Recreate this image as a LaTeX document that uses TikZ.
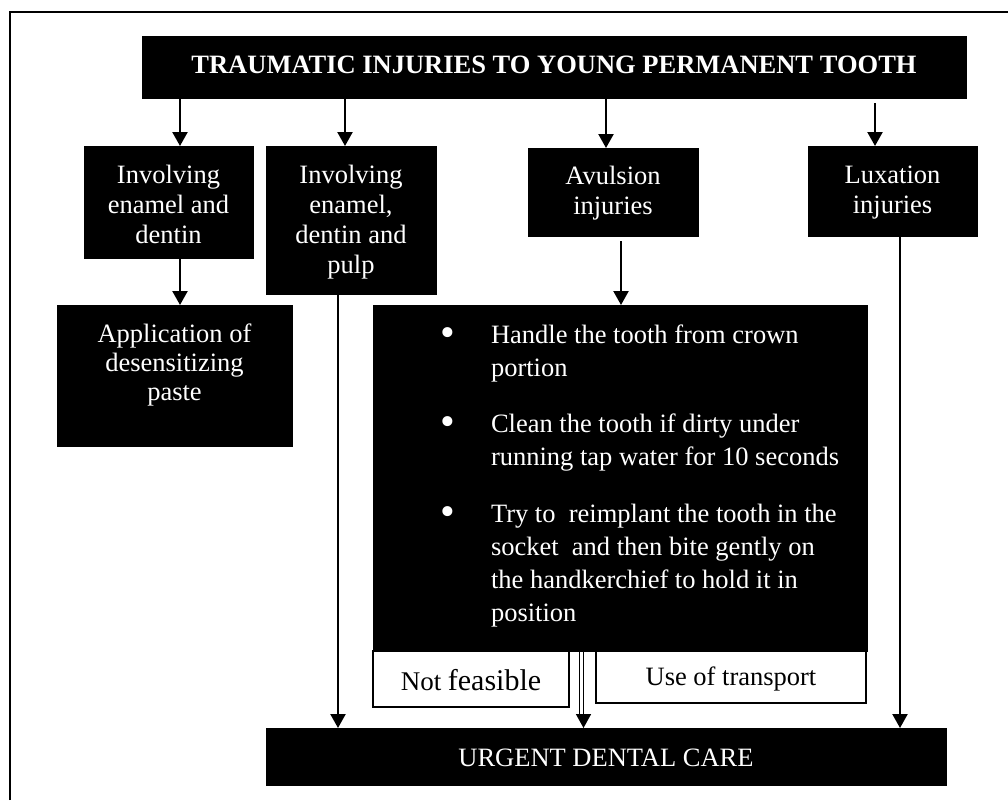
\documentclass[tikz,border=0pt]{standalone}
\usepackage{fontspec}
\setmainfont{Liberation Serif}
\usetikzlibrary{arrows.meta}
\tikzset{
  bbox/.style={fill=black, draw=black, line width=0.6pt, inner sep=0pt, outer sep=0pt, text=white, font=\fontsize{26.5}{30}\selectfont},
  wbox/.style={fill=white, draw=black, line width=1.3pt, inner sep=0pt, outer sep=0pt, text=black, font=\fontsize{26.5}{30}\selectfont},
  arr/.style={-{Triangle[width=15pt,length=14pt]}, line width=2.3pt},
  frame/.style={line width=2pt}
}
\newcommand{\bigbul}{\leavevmode\llap{\raisebox{-3.5pt}{\fontsize{42}{30}\selectfont\textbullet}\hspace{35.6pt}}}
\begin{document}
\begin{tikzpicture}[x=1pt, y=-1pt]
\useasboundingbox (0,0) rectangle (1008,800);
\draw[frame] (10,800) -- (10,12) -- (1008,12);

\node[bbox] (T) at (554,67) {\parbox[c][62pt][t]{824pt}{\centering\bfseries\rule{0pt}{37pt}TRAUMATIC INJURIES TO YOUNG PERMANENT TOOTH}};
\node[bbox] (A) at (168.5,202) {\parbox[c][112pt][t]{169pt}{\centering\rule{0pt}{37pt}Involving\\enamel and\\dentin}};
\node[bbox] (B) at (351,220) {\parbox[c][148pt][t]{170pt}{\centering\rule{0pt}{37pt}Involving\\enamel,\\dentin and\\pulp}};
\node[bbox] (C) at (613,192) {\parbox[c][88pt][t]{170pt}{\centering\rule{0pt}{36pt}Avulsion\\injuries}};
\node[bbox] (D) at (892.5,191) {\parbox[c][90pt][t]{169pt}{\centering\rule{0pt}{37pt}Luxation\\injuries}};
\node[bbox] (E) at (174.5,375.5) {\parbox[c][141pt][t]{235pt}{\centering\baselineskip=29pt\rule{0pt}{37pt}Application of\\desensitizing\\paste}};
\node[bbox] (F) at (620,478) {\parbox[c][346pt][t]{494pt}{\raggedright\leftskip=118pt\baselineskip=33pt
\rule{0pt}{38pt}\bigbul Handle the tooth from crown\\portion\par\vspace{23pt}
\bigbul Clean the tooth if dirty under\\running tap water for 10 seconds\par\vspace{24pt}
\bigbul Try to~ reimplant the tooth in the\\socket~ and then bite gently on\\the handkerchief to hold it in\\position\par}};
\node[wbox] (NF) at (471,679) {\parbox[c][56pt][t]{196pt}{\centering\rule{0pt}{39pt}{\fontsize{27}{30}\selectfont Not} {\fontsize{30}{30}\selectfont feasible}}};
\node[wbox] (UT) at (731,677) {\parbox[c][52pt][t]{270pt}{\centering\rule{0pt}{34pt}Use of transport}};
\node[bbox] (U) at (606,756.5) {\parbox[c][57pt][t]{680pt}{\centering\rule{0pt}{38pt}URGENT DENTAL CARE}};

\draw[arr] ([xshift=11.5pt]A.north |- T.south) -- ([xshift=11.5pt]A.north);
\draw[arr] ([xshift=-6pt]B.north |- T.south) -- ([xshift=-6pt]B.north);
\draw[arr] ([xshift=-7pt]C.north |- T.south) -- ([xshift=-7pt]C.north);
\draw[arr] ([xshift=-17.5pt,yshift=-5pt]D.north |- T.south) -- ([xshift=-17.5pt]D.north);
\draw[arr] ([xshift=5.5pt]E.north |- A.south) -- ([xshift=5.5pt]E.north);
\draw[arr] ([xshift=1pt,yshift=-5pt]F.north |- C.south) -- ([xshift=1pt]F.north);
\draw[arr] ([xshift=-13pt]B.south) -- ([xshift=-13pt]B.south |- U.north);
\draw[arr] ([xshift=7.5pt]D.south) -- ([xshift=7.5pt]D.south |- U.north);
\draw[arr, line width=1.6pt] ([xshift=-36.5pt]F.south) -- ([xshift=-36.5pt]F.south |- U.north);
\draw[line width=1.5pt] ([xshift=-40.5pt]F.south) -- ([xshift=-40.5pt,yshift=14pt]F.south |- U.north);
\end{tikzpicture}
\end{document}
